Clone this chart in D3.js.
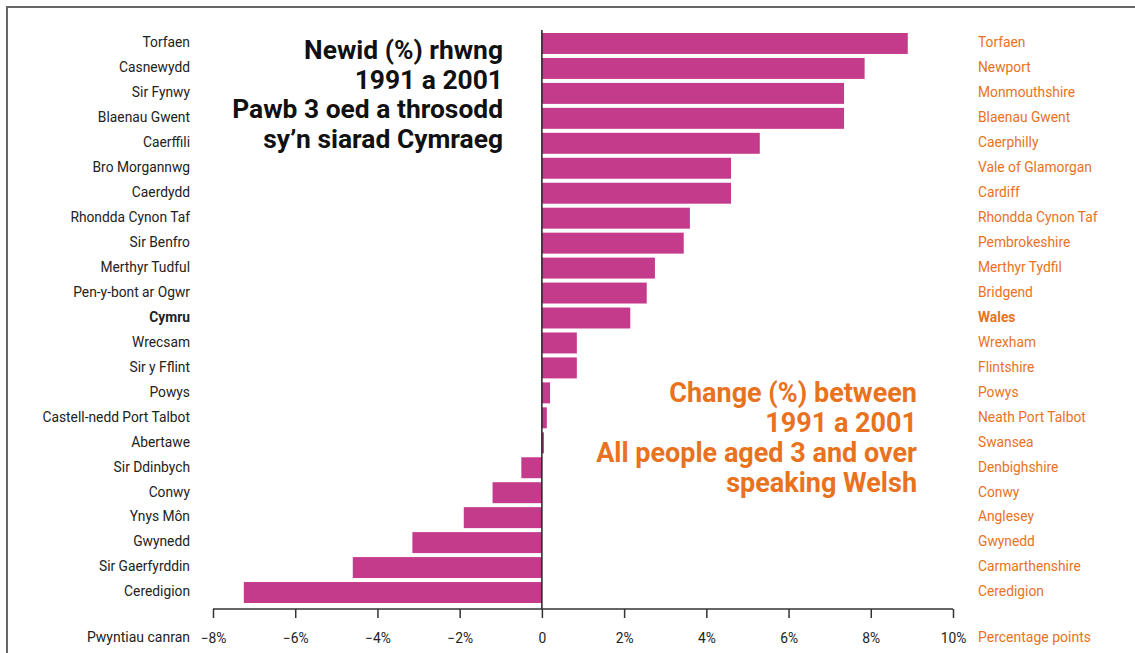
<!DOCTYPE html>
<html>
<head>
<meta charset="utf-8">
<script src="https://cdn.jsdelivr.net/npm/d3@7"></script>
<style>
  html, body { margin: 0; padding: 0; background: #fff; }
  svg { display: block; font-family: Roboto, "Open Sans", sans-serif; }
</style>
</head>
<body>
<svg id="chart" width="1135" height="653"></svg>
<script>
// Welsh-speaking population, change 1991–2001 by unitary authority (percentage points)
const namesCy = ["Torfaen", "Casnewydd", "Sir Fynwy", "Blaenau Gwent", "Caerffili", "Bro Morgannwg",
  "Caerdydd", "Rhondda Cynon Taf", "Sir Benfro", "Merthyr Tudful", "Pen-y-bont ar Ogwr", "Cymru",
  "Wrecsam", "Sir y Fflint", "Powys", "Castell-nedd Port Talbot", "Abertawe", "Sir Ddinbych",
  "Conwy", "Ynys Môn", "Gwynedd", "Sir Gaerfyrddin", "Ceredigion"];
const namesEn = ["Torfaen", "Newport", "Monmouthshire", "Blaenau Gwent", "Caerphilly", "Vale of Glamorgan",
  "Cardiff", "Rhondda Cynon Taf", "Pembrokeshire", "Merthyr Tydfil", "Bridgend", "Wales",
  "Wrexham", "Flintshire", "Powys", "Neath Port Talbot", "Swansea", "Denbighshire",
  "Conwy", "Anglesey", "Gwynedd", "Carmarthenshire", "Ceredigion"];
const change = [8.9, 7.85, 7.35, 7.35, 5.3, 4.6, 4.6, 3.6, 3.45, 2.75, 2.55, 2.15,
  0.85, 0.85, 0.2, 0.12, 0.05, -0.5, -1.2, -1.9, -3.15, -4.6, -7.25];
const totalName = "Cymru";
const tickValues = [-8, -6, -4, -2, 0, 2, 4, 6, 8, 10];
const titleCy = ["Newid (%) rhwng", "1991 a 2001", "Pawb 3 oed a throsodd", "sy’n siarad Cymraeg"];
const titleEn = ["Change (%) between", "1991 a 2001", "All people aged 3 and over", "speaking Welsh"];
const axisLabelCy = "Pwyntiau canran";
const axisLabelEn = "Percentage points";

const BAR = "#c43b8c", ORANGE = "#e8721e", INK = "#222";
const LABEL_SIZE = 13.8;

const svg = d3.select("#chart");

// frame
svg.append("rect")
  .attr("x", 7).attr("y", 7).attr("width", 1160).attr("height", 680)
  .attr("fill", "none").attr("stroke", "#666").attr("stroke-width", 2);

const x = d3.scaleLinear().domain([-8, 10]).range([213, 953]);
const y = d3.scaleBand().domain(d3.range(namesCy.length)).range([33, 603]).paddingInner(0.16);

// bars
svg.append("g").selectAll("rect")
  .data(change)
  .join("rect")
  .attr("x", d => x(Math.min(0, d)))
  .attr("width", d => Math.abs(x(d) - x(0)))
  .attr("y", (d, i) => y(i))
  .attr("height", y.bandwidth())
  .attr("fill", BAR);

// zero line
svg.append("line")
  .attr("x1", x(0)).attr("x2", x(0)).attr("y1", 30).attr("y2", 609)
  .attr("stroke", "#222").attr("stroke-width", 1.5);

// category labels, Welsh on the left and English on the right
svg.append("g").selectAll("text")
  .data(namesCy)
  .join("text")
  .attr("x", 190)
  .attr("y", (d, i) => y(i) + y.bandwidth() / 2 - 1)
  .attr("dy", "0.35em")
  .attr("text-anchor", "end")
  .attr("font-size", LABEL_SIZE)
  .attr("font-weight", d => d === totalName ? 700 : 400)
  .attr("fill", INK)
  .text(d => d);

svg.append("g").selectAll("text")
  .data(namesEn)
  .join("text")
  .attr("x", 978)
  .attr("y", (d, i) => y(i) + y.bandwidth() / 2 - 1)
  .attr("dy", "0.35em")
  .attr("font-size", LABEL_SIZE)
  .attr("font-weight", (d, i) => namesCy[i] === totalName ? 700 : 400)
  .attr("fill", ORANGE)
  .text(d => d);

// bottom axis
const axis = d3.axisBottom(x)
  .tickValues(tickValues)
  .tickSize(9)
  .tickPadding(15)
  .tickFormat(d => d === 0 ? "0" : (d < 0 ? "−" + Math.abs(d) : d) + "%");

const gx = svg.append("g").attr("transform", "translate(0,609)").call(axis);
gx.select(".domain").attr("stroke", "#333").attr("stroke-width", 1.5)
  .attr("d", `M${x(-8)},0H${x(10)}`);
gx.selectAll(".tick line").attr("stroke", "#333").attr("stroke-width", 1.5);
gx.selectAll(".tick text").attr("font-size", LABEL_SIZE).attr("fill", INK)
  .attr("font-family", "Roboto, sans-serif");

svg.append("text").attr("x", 190).attr("y", 637).attr("dy", "0.35em")
  .attr("text-anchor", "end").attr("font-size", 14).attr("fill", INK).text(axisLabelCy);
svg.append("text").attr("x", 978).attr("y", 637).attr("dy", "0.35em")
  .attr("font-size", 14).attr("fill", ORANGE).text(axisLabelEn);

// titles
svg.append("g").selectAll("text")
  .data(titleCy)
  .join("text")
  .attr("x", 503)
  .attr("y", (d, i) => 59 + i * 29.5)
  .attr("text-anchor", "end")
  .attr("font-size", 26.4)
  .attr("font-weight", 700)
  .attr("fill", "#111")
  .text(d => d);

svg.append("g").selectAll("text")
  .data(titleEn)
  .join("text")
  .attr("x", 917)
  .attr("y", (d, i) => 402 + i * 30)
  .attr("text-anchor", "end")
  .attr("font-size", 27)
  .attr("font-weight", 700)
  .attr("fill", ORANGE)
  .text(d => d);
</script>
</body>
</html>
